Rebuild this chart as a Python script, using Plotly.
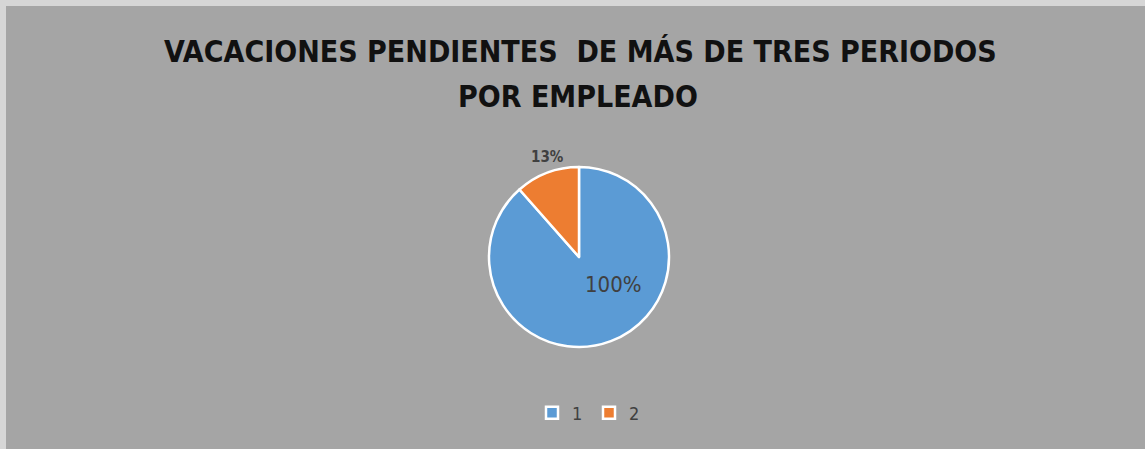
import plotly.graph_objects as go

categories = ["1", "2"]
values = [1.0, 0.13]
value_labels = ["100%", "13%"]
colors = ["#5B9BD5", "#ED7D31"]
title_lines = ["VACACIONES PENDIENTES  DE MÁS DE TRES PERIODOS", "POR EMPLEADO"]

W, H = 1145, 449
OFF = 6  # page offset of the figure (light chart border at top/left)
cx, cy, r = 579 - OFF, 257 - OFF, 90

FONT = "DejaVu Sans Condensed, Liberation Sans Narrow, Liberation Sans, Arial"

fig = go.Figure(go.Pie(
    labels=categories,
    values=values,
    textinfo="none",
    sort=False,
    direction="clockwise",
    rotation=0,
    marker=dict(colors=colors, line=dict(color="white", width=2.5)),
    domain=dict(x=[(cx - r) / W, (cx + r) / W], y=[(H - cy - r) / H, (H - cy + r) / H]),
    hoverinfo="label+value",
    automargin=False,
))

annotations = []
# title, two lines
for txt, (tx, ty) in zip(title_lines, [(580.5, 52), (578, 97)]):
    annotations.append(dict(
        x=(tx - OFF) / W, y=1 - (ty - OFF) / H, xref="paper", yref="paper",
        text=f"<b>{txt}</b>", showarrow=False, xanchor="center", yanchor="middle",
        font=dict(size=30, color="#111111", family=FONT),
    ))
# data labels placed as in the reference
label_pos = [(613, 284, 22, False), (547, 157, 15, True)]
for txt, (lx, ly, fs, bold) in zip(value_labels, label_pos):
    annotations.append(dict(
        x=(lx - OFF) / W, y=1 - (ly - OFF) / H, xref="paper", yref="paper",
        text=f"<b>{txt}</b>" if bold else txt, showarrow=False,
        xanchor="center", yanchor="middle",
        font=dict(size=fs, color="#404040", family=FONT),
    ))

fig.update_layout(
    width=W, height=H,
    margin=dict(l=0, r=0, t=0, b=0),
    paper_bgcolor="#A5A5A5",
    plot_bgcolor="#A5A5A5",
    legend=dict(
        orientation="h", x=526 / W, xanchor="left", y=(H - (413 - OFF)) / H, yanchor="middle",
        font=dict(size=18, color="#404040", family=FONT),
        itemwidth=30, entrywidth=12, entrywidthmode="pixels",
    ),
    annotations=annotations,
)

fig.write_html(
    "out.html",
    post_script="document.body.style.margin='6px 0 0 6px';document.body.style.background='#D6D6D6';document.body.style.overflow='hidden';",
)
